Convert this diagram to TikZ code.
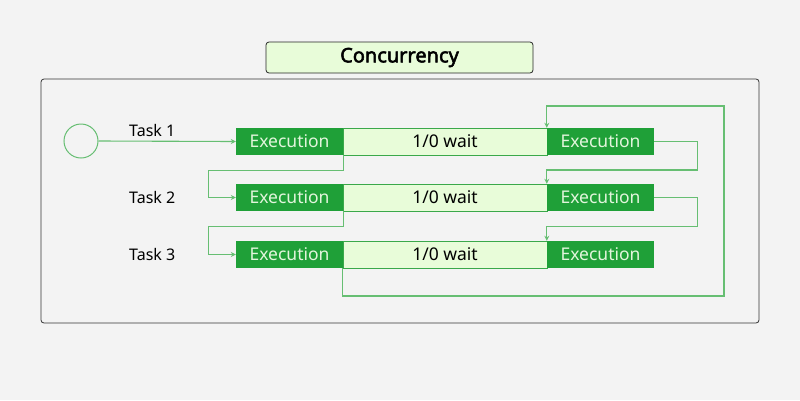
\documentclass[tikz,border=0pt]{standalone}
\usepackage{fontspec}
\setmainfont{Noto Sans}[AutoFakeBold=2.5]
\usetikzlibrary{arrows.meta,calc}
\definecolor{bg}{HTML}{F3F3F3}
\definecolor{dgreen}{HTML}{1FA038}
\definecolor{lgreen}{HTML}{E8FCD9}
\definecolor{cgreen}{HTML}{66BE72}
\definecolor{etext}{HTML}{E2F5DC}
\definecolor{wborder}{HTML}{3AA84A}
\tikzset{
  execbox/.style={rectangle, fill=dgreen, text=etext, minimum width=107pt, minimum height=27pt, inner sep=0pt, font=\fontsize{17.5}{20}\selectfont},
  waitbox/.style={rectangle, fill=lgreen, draw=wborder, line width=0.8pt, text=black, minimum width=204pt, minimum height=27pt, inner sep=0pt, font=\fontsize{17.5}{20}\selectfont},
  tasklbl/.style={anchor=west, inner sep=0pt, font=\fontsize{16}{19}\selectfont},
  conn/.style={draw=cgreen, line width=1.1pt},
  arr/.style={conn, -{Stealth[length=5pt,width=5pt]}}
}
\begin{document}
\begin{tikzpicture}[x=1pt,y=-1pt]
\useasboundingbox (0,0) rectangle (800,400);
\fill[bg] (0,0) rectangle (800,400);
% frame
\draw[draw=black!80, line width=0.8pt, rounded corners=3pt] (41,79) rectangle (759,323);
% title
\node[draw=black!85, fill=lgreen, rounded corners=3pt, line width=0.8pt, minimum width=267pt, minimum height=31pt, inner sep=0pt, font=\fontsize{20}{24}\selectfont\bfseries] (title) at (399.5,57.5) {Concurrency};
% start circle
\node[circle, draw=cgreen, line width=1pt, minimum size=34pt, inner sep=0pt] (start) at (81,141) {};
% task labels
\node[tasklbl] (t1) at (129,130) {Task 1};
\node[tasklbl] (t2) at (129,197) {Task 2};
\node[tasklbl] (t3) at (129,254) {Task 3};
% rows
\node[waitbox] (w1) at (445,141.5) {1/0 wait};
\node[execbox] (e1L) at (289.5,141.5) {Execution};
\node[execbox] (e1R) at (600.5,141.5) {Execution};
\node[waitbox] (w2) at (445,197.5) {1/0 wait};
\node[execbox] (e2L) at (289.5,197.5) {Execution};
\node[execbox] (e2R) at (600.5,197.5) {Execution};
\node[waitbox] (w3) at (445,254.5) {1/0 wait};
\node[execbox] (e3L) at (289.5,254.5) {Execution};
\node[execbox] (e3R) at (600.5,254.5) {Execution};
% connectors
\draw[arr] (start.east) -- (e1L.west);
\draw[arr] (e1L.south east) -- ++(0,15) -| ([xshift=-27pt]e2L.west) -- (e2L.west);
\draw[arr] (e2L.south east) -- ++(0,15) -| ([xshift=-27pt]e3L.west) -- (e3L.west);
\draw[arr] (e1R.east) -- ++(43,0) -- ++(0,28.5) -| (e2R.north west);
\draw[arr] (e2R.east) -- ++(43,0) -- ++(0,29) -| (e3R.north west);
\coordinate (br) at (724,296);
\coordinate (tr) at (724,106);
\draw[arr] (w3.south west) |- (br) -- (tr) -| (e1R.north west);
\end{tikzpicture}
\end{document}
